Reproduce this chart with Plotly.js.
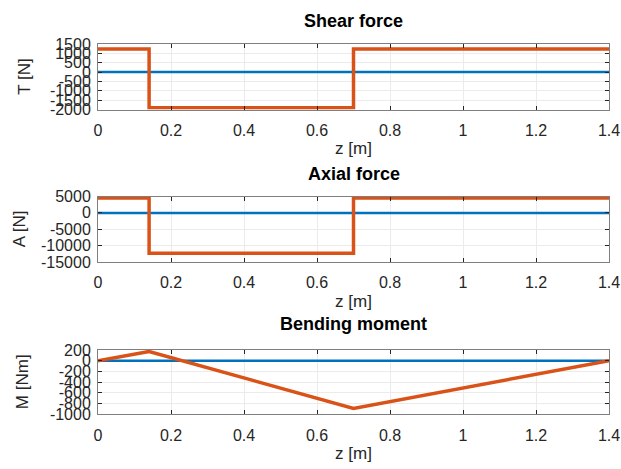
<!DOCTYPE html>
<html>
<head>
<meta charset="utf-8">
<script src="https://cdn.plot.ly/plotly-3.0.1.min.js"></script>
<style>html,body{margin:0;padding:0;background:#fff;}#plot{width:621px;height:469px;}</style>
</head>
<body>
<div id="plot"></div>
<script>
// z positions [m]
const zStep = [0, 0.14, 0.70, 1.40];
const zMoment = [0, 0.14, 0.70, 1.40];
const zZero = [0, 1.40];
// series values
const shearForce = [1230, -1900, 1230, 1230];   // T [N], step (hv)
const axialForce = [4550, -12300, 4550, 4550];  // A [N], step (hv)
const bendingMoment = [0, 172, -890, 0];        // M [Nm]
const zeroLine = [0, 0];
// tick labels
const xTicks = [0, 0.2, 0.4, 0.6, 0.8, 1, 1.2, 1.4];
const xTickText = ['0', '0.2', '0.4', '0.6', '0.8', '1', '1.2', '1.4'];
const tTicks = [1500, 1000, 500, 0, -500, -1000, -1500, -2000];
const tTickText = ['1500', '1000', '500', '0', '-500', '-1000', '-1500', '-2000'];
const aTicks = [5000, 0, -5000, -10000, -15000];
const aTickText = ['5000', '0', '-5000', '-10000', '-15000'];
const mTicks = [200, 0, -200, -400, -600, -800, -1000];
const mTickText = ['200', '0', '-200', '-400', '-600', '-800', '-1000'];
const titles = ['Shear force', 'Axial force', 'Bending moment'];
const yTitles = ['T [N]', 'A [N]', 'M [Nm]'];
const xTitle = 'z [m]';

const BLUE = '#0072BD', ORANGE = '#D95319';
const W = 621, H = 469, ML = 98, MR = 12;
const FAM = 'Liberation Sans, Arial, sans-serif';
const font = {family: FAM, size: 16, color: '#262626'};

function blue(xa, ya) {
  return {x: zZero, y: zeroLine, xaxis: xa, yaxis: ya, mode: 'lines',
    line: {color: BLUE, width: 2.5}, hoverinfo: 'skip'};
}
const data = [
  blue('x', 'y'),
  {x: zStep, y: shearForce, xaxis: 'x', yaxis: 'y', mode: 'lines', line: {color: ORANGE, width: 3.5, shape: 'hv'}},
  blue('x2', 'y2'),
  {x: zStep, y: axialForce, xaxis: 'x2', yaxis: 'y2', mode: 'lines', line: {color: ORANGE, width: 3.5, shape: 'hv'}},
  blue('x3', 'y3'),
  {x: zMoment, y: bendingMoment, xaxis: 'x3', yaxis: 'y3', mode: 'lines', line: {color: ORANGE, width: 3.5}}
];

// pixel boxes [top, bottom]
const boxes = [[44, 109.5], [196.5, 262], [350, 414.3]];
const titleY = [21, 174, 324];
const yTitleX = [25, 19, 22];

function xaxis(anchor) {
  return {anchor: anchor, domain: [0, 1], range: [0, 1.4], tickvals: xTicks, ticktext: xTickText,
    ticks: 'inside', ticklen: 4, tickcolor: '#262626', mirror: 'ticks', showline: true, linecolor: '#7f7f7f',
    linewidth: 1, showgrid: true, gridcolor: '#ebebeb', zeroline: false, tickfont: font,
    ticklabelstandoff: 6,
    title: {text: xTitle, font: {family: FAM, size: 17, color: '#262626'}, standoff: 4}, fixedrange: true};
}
function yaxis(anchor, i, range, tv, tt) {
  return {anchor: anchor, domain: [1 - boxes[i][1] / H, 1 - boxes[i][0] / H], range: range,
    tickvals: tv, ticktext: tt, ticks: 'inside', ticklen: 4, tickcolor: '#262626', mirror: 'ticks',
    showline: true, linecolor: '#7f7f7f', linewidth: 1, showgrid: true, gridcolor: '#ebebeb',
    zeroline: false, tickfont: font, ticklabelstandoff: 3, fixedrange: true};
}

const pw = W - ML - MR;
const annotations = titles.map((t, i) => ({
  text: '<b>' + t + '</b>', xref: 'paper', yref: 'paper', x: 0.5, y: 1 - titleY[i] / H,
  xanchor: 'center', yanchor: 'middle', showarrow: false,
  font: {family: FAM, size: 18, color: '#000'}
})).concat(yTitles.map((t, i) => ({
  text: t, xref: 'paper', yref: 'paper', x: (yTitleX[i] - ML) / pw,
  y: 1 - (boxes[i][0] + boxes[i][1]) / 2 / H, xanchor: 'center', yanchor: 'middle',
  textangle: -90, showarrow: false, font: {family: FAM, size: 17, color: '#262626'}
})));

const layout = {
  width: W, height: H, showlegend: false,
  margin: {l: ML, r: MR, t: 0, b: 0},
  paper_bgcolor: '#fff', plot_bgcolor: '#fff',
  font: font,
  xaxis: xaxis('y'), yaxis: yaxis('x', 0, [-2000, 1500], tTicks, tTickText),
  xaxis2: xaxis('y2'), yaxis2: yaxis('x2', 1, [-15000, 5000], aTicks, aTickText),
  xaxis3: xaxis('y3'), yaxis3: yaxis('x3', 2, [-1000, 200], mTicks, mTickText),
  annotations: annotations
};
Plotly.newPlot('plot', data, layout, {displayModeBar: false, staticPlot: true});
</script>
</body>
</html>
